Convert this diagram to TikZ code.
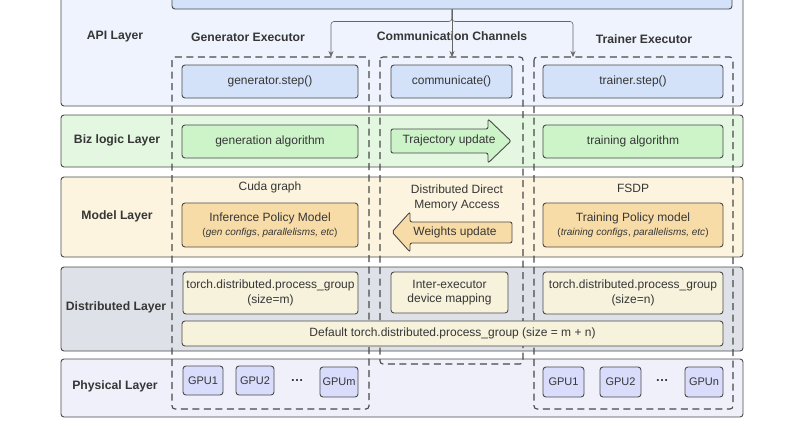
\documentclass[tikz,border=0pt]{standalone}
\usepackage{fontspec}
\setmainfont{Liberation Sans}
\usetikzlibrary{arrows.meta,calc}
\definecolor{stk}{HTML}{4A4A4A}
\definecolor{txt}{HTML}{363636}
\definecolor{apiF}{HTML}{EEF3FD}
\definecolor{apiB}{HTML}{D3E1F9}
\definecolor{bizF}{HTML}{E4F8E1}
\definecolor{bizB}{HTML}{CDF3C9}
\definecolor{modF}{HTML}{FCF4DE}
\definecolor{modB}{HTML}{F8DCA8}
\definecolor{disF}{HTML}{DEE1E7}
\definecolor{disB}{HTML}{F6F2DC}
\definecolor{phyF}{HTML}{F0F0FA}
\definecolor{gpuB}{HTML}{D9DCFA}
\tikzset{
  layer/.style={draw=stk, line width=0.9pt, rounded corners=3pt},
  dbox/.style={draw=stk, line width=1.1pt, dash pattern=on 7pt off 4.5pt, rounded corners=3pt},
  ibox/.style={draw=stk, line width=0.9pt, rounded corners=3pt, text=txt, font=\fontsize{12}{14.5}\selectfont, align=center, inner sep=0pt},
  lbl/.style={text=txt, font=\bfseries\fontsize{12.2}{14.5}\selectfont, align=center},
  plain/.style={text=txt, font=\fontsize{12}{14.5}\selectfont, align=center},
  conn/.style={draw=gray!80!black, line width=0.6pt, rounded corners=3pt, -{Stealth[length=6pt,width=5pt]}},
}
\newcommand{\mkbox}[7]{% name, x1,y1,x2,y2, fill, text
  \node[ibox, fill=#6, minimum width={#4-#2}, minimum height={#5-#3}] (#1) at ({(#2+#4)/2},{(#3+#5)/2}) {#7};}
\begin{document}
\begin{tikzpicture}[x=1pt,y=-1pt]
\useasboundingbox (0,0) rectangle (800,445);
\fill[white] (0,0) rectangle (800,445);
% layers
\draw[layer, fill=apiF] (61,-10) rectangle (743,106);
\draw[layer, fill=bizF] (61,115) rectangle (743,167);
\draw[layer, fill=modF] (61,177) rectangle (743,257);
\draw[layer, fill=disF] (61,267) rectangle (743,351);
\draw[layer, fill=phyF] (61,359) rectangle (743,417);
% top box
\node[ibox, fill=apiB, minimum width=560, minimum height=24] (top) at (452,-3) {};
% layer labels
\node[lbl] (lapi) at (115,37) {API Layer};
\node[lbl] (lbiz) at (117,140) {Biz logic Layer};
\node[lbl] (lmod) at (117,216) {Model Layer};
\node[lbl] (ldis) at (116,307) {Distributed Layer};
\node[lbl] (lphy) at (115,386) {Physical Layer};
% column headers
\node[lbl] (hgen) at (248,37) {Generator Executor};
\node[lbl] (hcom) at (452,36) {Communication Channels};
\node[lbl] (htrn) at (644,39) {Trainer Executor};
% dashed boxes
\draw[dbox] (172,57) rectangle (369,409);
\draw[dbox] (380,57) rectangle (523,364);
\draw[dbox] (534,57) rectangle (733,409);
\coordinate (genin) at (331,57);
\coordinate (comin) at (452,57);
\coordinate (trnin) at (573,57);
% connectors
\draw[conn] (top.south) -- ++(0,12) -| (genin);
\draw[conn] (top.south) -- (comin);
\draw[conn] (top.south) -- ++(0,12) -| (trnin);
% API boxes
\mkbox{gstep}{182}{65}{358}{98}{apiB}{generator.step()}
\mkbox{cstep}{391}{65}{512}{98}{apiB}{communicate()}
\mkbox{tstep}{543}{65}{723}{98}{apiB}{trainer.step()}
% Biz boxes
\mkbox{galg}{182}{125}{358}{158}{bizB}{generation algorithm}
\mkbox{talg}{543}{125}{723}{158}{bizB}{training algorithm}
\draw[draw=stk, line width=0.9pt, fill=bizB, rounded corners=2pt]
  (391,129) -- (488,129) -- (488,119) -- (511,141) -- (488,163) -- (488,153) -- (391,153) -- cycle;
\node[plain] (traj) at (449,140) {Trajectory update};
% Model layer
\node[plain] (cuda) at (270,187) {Cuda graph};
\mkbox{ipm}{182}{203}{358}{247}{modB}{Inference Policy Model\\[-1pt]{\fontsize{10}{12}\selectfont(\textit{gen configs}, \textit{parallelisms, etc})}}
\node[plain] (fsdp) at (633,188) {FSDP};
\mkbox{tpm}{543}{203}{723}{247}{modB}{Training Policy model\\[-1pt]{\fontsize{10}{12}\selectfont(\textit{training configs}, \textit{parallelisms, etc})}}
\node[plain] (ddma) at (457,198) {Distributed Direct\\Memory Access};
\draw[draw=stk, line width=0.9pt, fill=modB, rounded corners=2pt]
  (512,222) -- (410,222) -- (410,212) -- (392,232) -- (410,252) -- (410,243) -- (512,243) -- cycle;
\node[plain] (wup) at (455,232) {Weights update};
% Distributed layer
\mkbox{pgm}{183}{272}{358}{314}{disB}{torch.distributed.process\_group\\(size=m)}
\mkbox{iem}{391}{272}{508}{313}{disB}{Inter-executor\\device mapping}
\mkbox{pgn}{543}{272}{723}{314}{disB}{torch.distributed.process\_group\\(size=n)}
\mkbox{pgall}{182}{321}{723}{346}{disB}{Default torch.distributed.process\_group (size = m + n)}
% Physical
\mkbox{g1}{183}{366}{223}{395}{gpuB}{\fontsize{11}{13}\selectfont GPU1}
\mkbox{g2}{236}{366}{274}{395}{gpuB}{\fontsize{11}{13}\selectfont GPU2}
\node[plain, font=\bfseries\fontsize{13}{14}\selectfont] (gd) at (297,381) {\dots};
\mkbox{gm}{320}{367}{358}{397}{gpuB}{\fontsize{11}{13}\selectfont GPUm}
\mkbox{h1}{543}{367}{584}{397}{gpuB}{\fontsize{11}{13}\selectfont GPU1}
\mkbox{h2}{600}{367}{641}{397}{gpuB}{\fontsize{11}{13}\selectfont GPU2}
\node[plain, font=\bfseries\fontsize{13}{14}\selectfont] (hd) at (662,381) {\dots};
\mkbox{hn}{685}{367}{723}{397}{gpuB}{\fontsize{11}{13}\selectfont GPUn}
\end{tikzpicture}
\end{document}
